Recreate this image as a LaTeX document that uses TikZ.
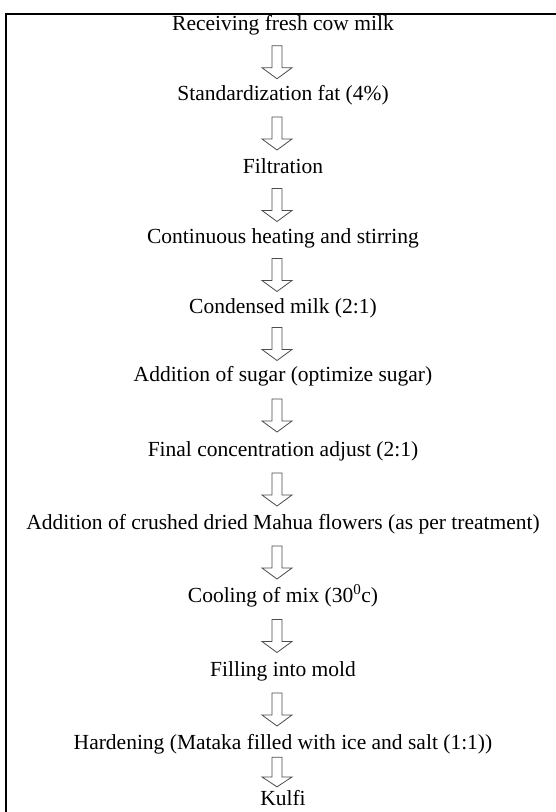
\documentclass[tikz,border=0pt]{standalone}
\usepackage{fontspec}
\setmainfont{Liberation Serif}
\usetikzlibrary{calc}
\tikzset{
  steptext/.style={anchor=base, inner sep=0pt, font=\fontsize{21.5}{26}\selectfont},
  frameline/.style={line width=2pt, line join=miter},
  barrowline/.style={draw=black!70, line width=0.8pt, fill=white, line join=miter},
  barrow/.pic={\path[barrowline] (-5,-16.5) -- (5,-16.5) -- (5,5.5) -- (15,5.5) -- (0,16.5) -- (-15,5.5) -- (-5,5.5) -- cycle;}
}
\begin{document}
\begin{tikzpicture}[x=1pt,y=-1pt]
\useasboundingbox (0,0) rectangle (555,812);
\draw[frameline] (6,812) -- (6,13.5) -- (560,13.5);
\node[steptext] (s1) at (283,30.5) {Receiving fresh cow milk};
\node[steptext] (s2) at (283,100) {Standardization fat (4\%)};
\node[steptext] (s3) at (283,173) {Filtration};
\node[steptext] (s4) at (283,243) {Continuous heating and stirring};
\node[steptext] (s5) at (283,313) {Condensed milk (2:1)};
\node[steptext] (s6) at (283,381) {Addition of sugar (optimize sugar)};
\node[steptext] (s7) at (283,456) {Final concentration adjust (2:1)};
\node[steptext] (s8) at (283,529) {Addition of crushed dried Mahua flowers (as per treatment)};
\node[steptext] (s9) at (283,602) {Cooling of mix (30\textsuperscript{0}c)};
\node[steptext] (s10) at (283,676) {Filling into mold};
\node[steptext] (s11) at (283,749) {Hardening (Mataka filled with ice and salt (1:1))};
\node[steptext] (s12) at (283,805) {Kulfi};
\foreach \i in {1,...,10}{
  \pgfmathtruncatemacro{\j}{\i+1}
  \coordinate (a\i) at ($(s\i.base)!0.5!(s\j.base)+(-6,-3)$);
  \pic at (a\i) {barrow};
}
\coordinate (a11) at ($(s11.base)!0.5!(s12.base)+(-6,-5)$);
\pic[yscale=0.9] at (a11) {barrow};
\end{tikzpicture}
\end{document}
